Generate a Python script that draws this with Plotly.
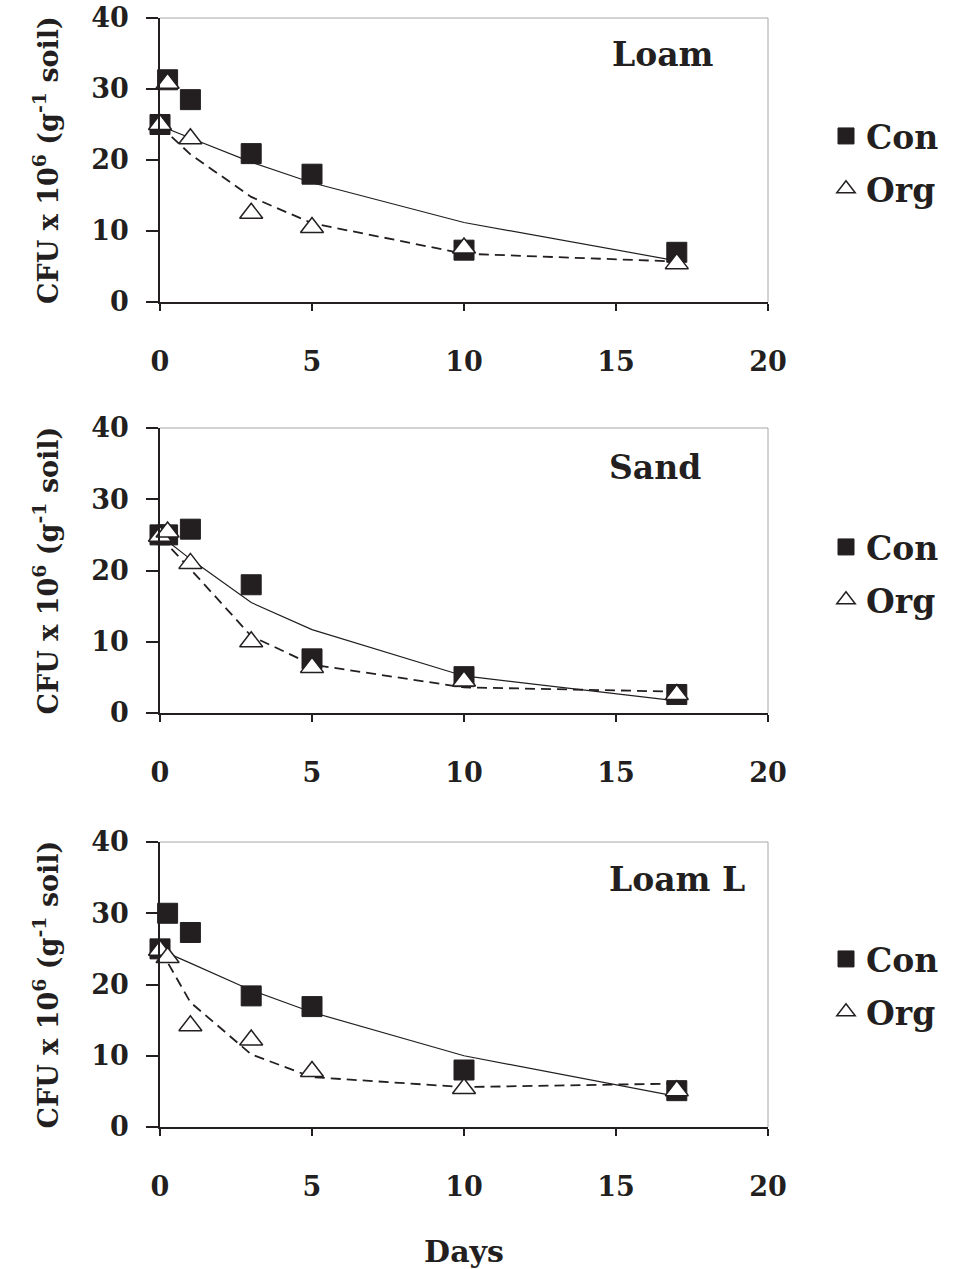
import plotly.graph_objects as go

# ---------------- data ----------------
days = [0, 0.25, 1, 3, 5, 10, 17]
panel_names = ["Loam", "Sand", "Loam L"]

loam_con = [25.0, 31.3, 28.5, 20.9, 18.0, 7.3, 7.0]
loam_org = [25.0, 30.8, 23.0, 12.5, 10.5, 7.6, 5.4]
loam_con_fit = [24.8, 24.4, 23.1, 19.7, 16.8, 11.2, 5.8]
loam_org_fit = [24.8, 23.8, 20.8, 14.8, 11.1, 6.8, 5.7]

sand_con = [25.0, 25.0, 25.8, 18.0, 7.6, 5.1, 2.6]
sand_org = [24.8, 25.4, 21.0, 10.0, 6.4, 4.5, 2.6]
sand_con_fit = [24.6, 24.1, 21.6, 15.5, 11.7, 5.2, 1.7]
sand_org_fit = [24.6, 23.6, 20.2, 10.8, 6.8, 3.6, 3.0]

loaml_con = [25.0, 30.0, 27.3, 18.4, 16.9, 8.0, 5.1]
loaml_org = [24.8, 23.8, 14.2, 12.2, 7.8, 5.4, 5.1]
loaml_con_fit = [24.8, 24.4, 23.0, 19.2, 16.1, 10.0, 4.3]
loaml_org_fit = [24.8, 23.1, 17.5, 10.2, 7.0, 5.6, 6.1]

series_names = ["Con", "Org"]
y_ticks = [0, 10, 20, 30, 40]
x_ticks = [0, 5, 10, 15, 20]
y_title = "CFU x 10<sup>6</sup> (g<sup>-1</sup> soil)"
x_title = "Days"

panels = [
    (loam_con, loam_org, loam_con_fit, loam_org_fit),
    (sand_con, sand_org, sand_con_fit, sand_org_fit),
    (loaml_con, loaml_org, loaml_con_fit, loaml_org_fit),
]

# ---------------- style / layout ----------------
INK = "#231f20"
FRAME = "#a6a6a6"
FONT = "DejaVu Serif"
W, H = 954, 1269
ml, mr, mt, mb = 160, 186, 18, 142
ph = H - mt - mb
panel_px = [(18, 302), (428, 713), (842, 1127)]
legend_top_px = [108, 519, 931]

fig = go.Figure()
layout = dict(
    width=W, height=H,
    margin=dict(l=ml, r=mr, t=mt, b=mb, autoexpand=False),
    paper_bgcolor="white", plot_bgcolor="white",
    font=dict(family=FONT, color=INK),
    showlegend=True,
)

shapes = []
annotations = []
for i, (con, org, con_fit, org_fit) in enumerate(panels):
    n = "" if i == 0 else str(i + 1)
    xa, ya = "x" + n, "y" + n
    leg = "legend" + n
    top, bot = panel_px[i]
    dom = [1 - (bot - mt) / ph, 1 - (top - mt) / ph]

    fig.add_trace(go.Scatter(x=days, y=con_fit, mode="lines", xaxis=xa, yaxis=ya,
                             line=dict(color=INK, width=1.2), showlegend=False,
                             hoverinfo="skip", cliponaxis=False))
    fig.add_trace(go.Scatter(x=days, y=org_fit, mode="lines", xaxis=xa, yaxis=ya,
                             line=dict(color=INK, width=1.8, dash="10px,6px"),
                             showlegend=False, hoverinfo="skip", cliponaxis=False))
    fig.add_trace(go.Scatter(x=days, y=con, mode="markers", name=series_names[0],
                             xaxis=xa, yaxis=ya, legend=leg, legendgroup="con" + n,
                             cliponaxis=False,
                             marker=dict(symbol="square", size=20, color=INK,
                                         line=dict(color=INK, width=1))))
    fig.add_trace(go.Scatter(x=days, y=org, mode="markers", name=series_names[1],
                             xaxis=xa, yaxis=ya, legend=leg, legendgroup="org" + n,
                             cliponaxis=False,
                             marker=dict(symbol="triangle-up", size=20, color="white",
                                         line=dict(color=INK, width=1.5))))

    layout["xaxis" + n] = dict(
        domain=[0, 1], anchor=ya, range=[0, 20], tickvals=x_ticks,
        showline=True, linecolor=INK, linewidth=1.5, ticks="outside", ticklen=7,
        tickcolor=INK, tickwidth=1.5, showgrid=False, zeroline=False,
        tickfont=dict(family=FONT, size=27, weight="bold", color=INK),
        ticklabelstandoff=28,
    )
    if i == 2:
        layout["xaxis" + n]["title"] = dict(
            text=x_title, font=dict(family=FONT, size=30, weight="bold", color=INK),
            standoff=40)
    layout["yaxis" + n] = dict(
        domain=dom, anchor=xa, range=[0, 40], tickvals=y_ticks,
        showline=True, linecolor=INK, linewidth=1.5, ticks="outside", ticklen=12,
        tickcolor=INK, tickwidth=1.5, showgrid=False, zeroline=False,
        tickfont=dict(family=FONT, size=27, weight="bold", color=INK),
        ticklabelstandoff=12,
        title=dict(text=y_title, font=dict(family=FONT, size=27, weight="bold", color=INK),
                   standoff=25),
    )
    layout[leg] = dict(
        xref="container", yref="container", x=826 / W, y=1 - legend_top_px[i] / H,
        xanchor="left", yanchor="top", bgcolor="rgba(0,0,0,0)", borderwidth=0,
        font=dict(family=FONT, size=33, weight="bold", color=INK),
        tracegroupgap=7, traceorder="grouped",
    )
    # light frame on top and right
    shapes.append(dict(type="line", xref=xa + " domain", yref=ya + " domain",
                       x0=0, x1=1, y0=1, y1=1, line=dict(color=FRAME, width=1)))
    shapes.append(dict(type="line", xref=xa + " domain", yref=ya + " domain",
                       x0=1, x1=1, y0=0, y1=1, line=dict(color=FRAME, width=1)))
    label_pos = [(0.827, 0.87), (0.814, 0.86), (0.850, 0.867)][i]
    annotations.append(dict(text=panel_names[i], xref=xa + " domain", yref=ya + " domain",
                            x=label_pos[0], y=label_pos[1], showarrow=False,
                            xanchor="center", yanchor="middle",
                            font=dict(family=FONT, size=33, weight="bold", color=INK)))

layout["shapes"] = shapes
layout["annotations"] = annotations
fig.update_layout(**layout)
fig.write_html("out.html")
